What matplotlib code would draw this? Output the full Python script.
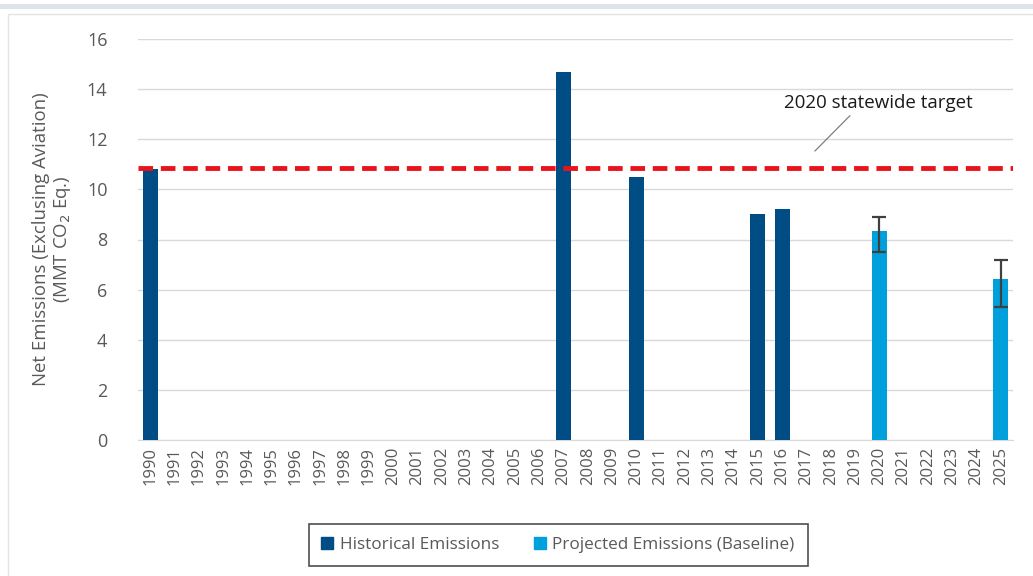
import numpy as np
import matplotlib.pyplot as plt
from matplotlib.patches import Rectangle, Patch

plt.rcParams['font.family'] = ['Open Sans', 'DejaVu Sans']

years = list(range(1990, 2026))
historical = {1990: 10.8, 2007: 14.7, 2010: 10.5, 2015: 9.0, 2016: 9.2}
projected = {2020: 8.35, 2025: 6.42}
proj_err_low = {2020: 7.5, 2025: 5.3}
proj_err_high = {2020: 8.9, 2025: 7.2}
target = 10.87

dark = '#004C84'
light = '#00A0DC'
grey_txt = '#595959'

fig = plt.figure(figsize=(10.33, 5.76), dpi=100)
ax = fig.add_axes([138/1033, 1-440/576, (1013-138)/1033, 401/576])

x = np.arange(len(years))
w = 0.62
hx = [years.index(y) for y in historical]
ax.bar(hx, list(historical.values()), width=w, color=dark, zorder=3)
px = [years.index(y) for y in projected]
pv = np.array(list(projected.values()))
lo = pv - np.array(list(proj_err_low.values()))
hi = np.array(list(proj_err_high.values())) - pv
ax.bar(px, pv, width=w, color=light, zorder=3)
ax.errorbar(px, pv, yerr=[lo, hi], fmt='none', ecolor='#404040', elinewidth=1.6,
            capsize=5, capthick=1.6, zorder=4)

ax.axhline(target, color='#E8141B', lw=3.5, ls=(0, (3, 1.6)), zorder=5)
ax.annotate('2020 statewide target', xy=(years.index(2017) + 0.35, 11.53),
            xytext=(years.index(2020) - 0.05, 13.45), ha='center', va='center',
            fontsize=13.5, color='#1a1a1a',
            arrowprops=dict(arrowstyle='-', color='#7f7f7f', lw=0.9, shrinkB=0, shrinkA=1,
                            relpos=(0.38, 0.1)))

ax.set_xlim(-0.5, len(years) - 0.5)
ax.set_ylim(0, 16)
ax.set_yticks(range(0, 17, 2))
ax.set_xticks(x)
ax.set_xticklabels([str(y) for y in years], rotation=90)
ax.tick_params(axis='both', length=0, colors=grey_txt)
ax.tick_params(axis='x', labelsize=12, pad=5)
ax.tick_params(axis='y', labelsize=13, pad=22)
ax.grid(axis='y', color='#d9d9d9', lw=1, zorder=0)
for s in ['left', 'right', 'top']:
    ax.spines[s].set_visible(False)
ax.spines['bottom'].set_color('#d9d9d9')
ax.set_ylabel('Net Emissions (Exclusing Aviation)\n(MMT CO$_2$ Eq.)', fontsize=13.4,
              color=grey_txt, labelpad=10, linespacing=1.15)

handles = [Patch(color=dark, label='Historical Emissions'),
           Patch(color=light, label='Projected Emissions (Baseline)')]
leg = fig.legend(handles=handles, loc='center', bbox_to_anchor=(558/1033, 1-545/576),
                 ncol=2, fontsize=12.3, frameon=True, fancybox=False, handlelength=0.7,
                 handleheight=0.7, columnspacing=2.0, borderpad=0.75, handletextpad=0.4,
                 borderaxespad=0)
leg.get_frame().set_edgecolor('#222222')
leg.get_frame().set_linewidth(1.2)
for t in leg.get_texts():
    t.set_color(grey_txt)

# page frame
fig.add_artist(Rectangle((0, 1-9/576), 1, 5/576, transform=fig.transFigure,
                         color='#dde3ea', lw=0))
fig.add_artist(Rectangle((8/1033, -0.01), 1.1, 1-14/576 + 0.01, transform=fig.transFigure,
                         fill=False, edgecolor='#e3e3e3', lw=1))

fig.savefig('out.png', dpi=100)
